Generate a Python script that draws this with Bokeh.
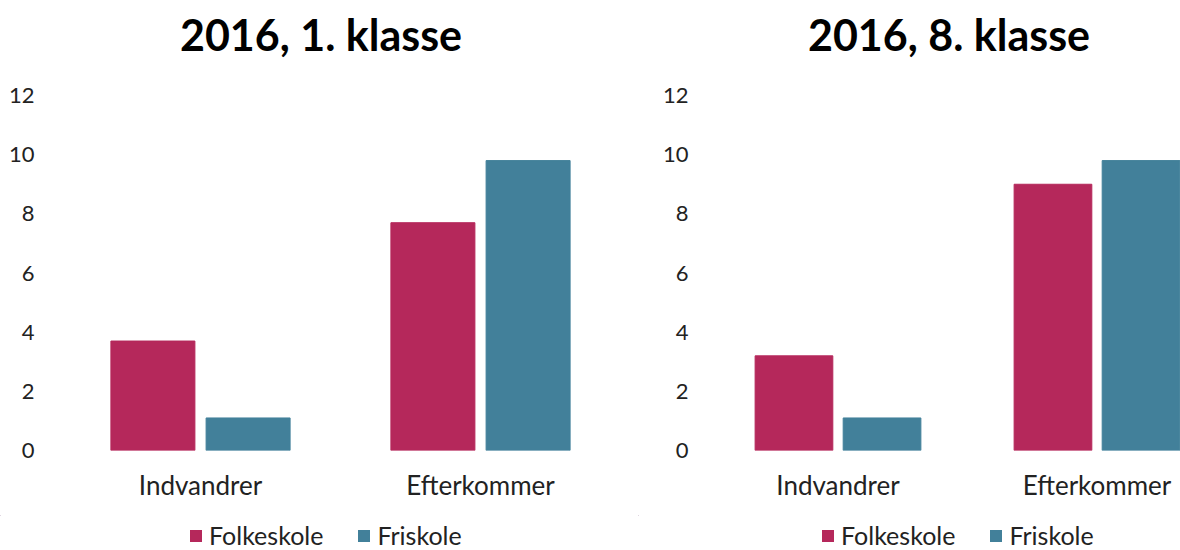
from bokeh.plotting import figure
from bokeh.layouts import row, column
from bokeh.models import Range1d, FixedTicker, Legend, LegendItem, Div
from bokeh.transform import dodge
from bokeh.embed import file_html
from bokeh.resources import INLINE

categories = ["Indvandrer", "Efterkommer"]
series_names = ["Folkeskole", "Friskole"]
titles = ["2016, 1. klasse", "2016, 8. klasse"]
klasse1_folkeskole = [3.7, 7.7]
klasse1_friskole = [1.1, 9.8]
klasse8_folkeskole = [3.2, 9.0]
klasse8_friskole = [1.1, 9.8]
y_ticks = [0, 2, 4, 6, 8, 10, 12]

colors = ["#B5285B", "#42809A"]
FONT = "Lato"


def make_title(text, width, shift):
    html = ('<div style="width:%dpx;text-align:center;font-family:Lato;font-weight:bold;'
            'font-size:43px;line-height:52px;color:#000;padding-top:9px;'
            'position:relative;left:%dpx;white-space:nowrap">%s</div>') % (width, shift, text)
    return Div(text=html, width=width, height=70, margin=0)


def make_chart(folke, fri, width, border_left, border_right, x_end, ystandoff):
    xs = list(range(len(categories)))
    p = figure(width=width, height=445, output_backend="svg", toolbar_location=None,
               x_range=Range1d(-0.5, x_end), y_range=Range1d(0, 12),
               min_border_left=border_left, min_border_right=border_right,
               min_border_top=25, min_border_bottom=65)
    p.outline_line_color = None
    p.grid.visible = False
    p.background_fill_color = "white"
    p.border_fill_color = "white"

    data = dict(x=xs, folke=folke, fri=fri)
    p.vbar(x=dodge("x", -0.17, range=p.x_range), top="folke", width=0.30,
           source=data, color=colors[0])
    p.vbar(x=dodge("x", 0.17, range=p.x_range), top="fri", width=0.30,
           source=data, color=colors[1])

    p.xaxis.ticker = FixedTicker(ticks=xs)
    p.xaxis.major_label_overrides = {i: c for i, c in enumerate(categories)}
    p.xaxis.axis_line_color = None
    p.xaxis.major_tick_line_color = None
    p.xaxis.minor_tick_line_color = None
    p.xaxis.major_tick_out = 0
    p.xaxis.major_label_standoff = 18
    p.xaxis.major_label_text_font = FONT
    p.xaxis.major_label_text_font_size = "26px"
    p.xaxis.major_label_text_color = "#222222"

    p.yaxis.ticker = FixedTicker(ticks=y_ticks)
    p.yaxis.axis_line_color = None
    p.yaxis.major_tick_line_color = None
    p.yaxis.minor_tick_line_color = None
    p.yaxis.major_tick_out = 0
    p.yaxis.major_label_standoff = ystandoff
    p.yaxis.major_label_text_font = FONT
    p.yaxis.major_label_text_font_size = "22px"
    p.yaxis.major_label_text_color = "#222222"
    return p


def make_legend(folke, fri, width, legend_x):
    # legend-only strip: its bars lie outside the visible ranges, only the swatches show
    xs = list(range(len(categories)))
    lp = figure(width=width, height=35, output_backend="svg", toolbar_location=None,
                x_axis_location=None, y_axis_location=None,
                x_range=Range1d(100, 101), y_range=Range1d(-200, -199),
                min_border=0)
    lp.outline_line_color = None
    lp.grid.visible = False
    lp.background_fill_color = "white"
    lp.border_fill_color = "white"
    items = []
    for name, vals, c in zip(series_names, [folke, fri], colors):
        r = lp.vbar(x=xs, top=vals, width=0.3, fill_color=c, line_color=None)
        items.append(LegendItem(label=name, renderers=[r]))
    legend = Legend(items=items, orientation="horizontal", location=(legend_x, 0),
                    glyph_width=15, glyph_height=15, label_standoff=6, spacing=33,
                    label_text_font=FONT, label_text_font_size="25px",
                    label_text_color="#222222", padding=0, margin=0,
                    border_line_color=None, background_fill_alpha=0)
    lp.add_layout(legend, "center")
    return lp


t1 = make_title(titles[0], 638, 2)
t2 = make_title(titles[1], 542, 40)
p1 = make_chart(klasse1_folkeskole, klasse1_friskole,
                width=638, border_left=60, border_right=18, x_end=1.5, ystandoff=26)
p2 = make_chart(klasse8_folkeskole, klasse8_friskole,
                width=542, border_left=70, border_right=0, x_end=-0.5 + 472 / 259,
                ystandoff=20)
l1 = make_legend(klasse1_folkeskole, klasse1_friskole, 638, 188)
l2 = make_legend(klasse8_folkeskole, klasse8_friskole, 542, 182)

layout = column(row(t1, t2), row(p1, p2), row(l1, l2))
open("out.html", "w").write(file_html(layout, INLINE))
